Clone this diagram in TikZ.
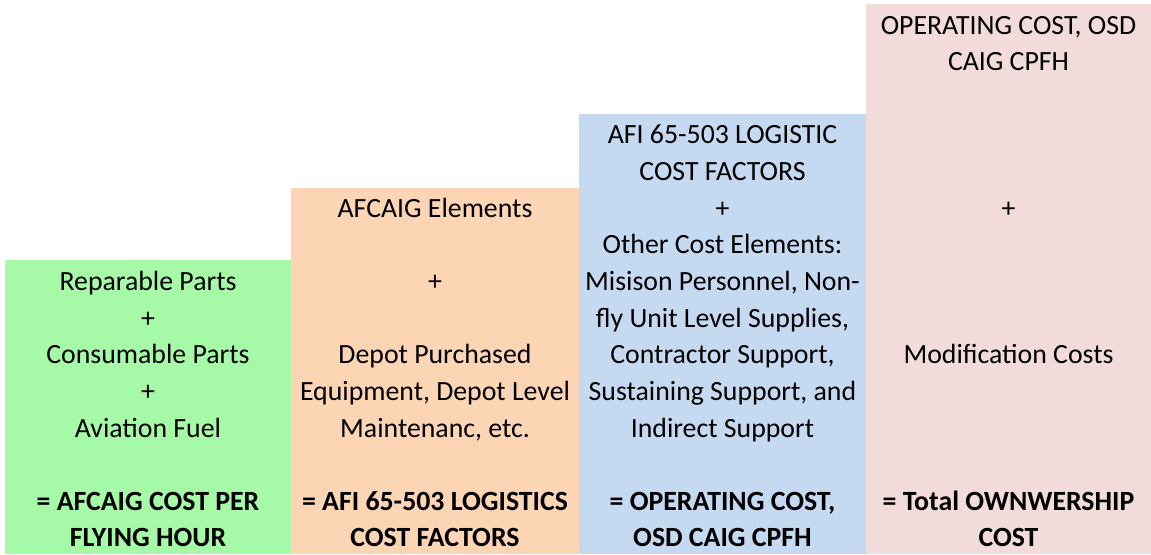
\documentclass[tikz,border=0pt]{standalone}
\usepackage{fontspec}
\setmainfont{Carlito}

\definecolor{fhgreen}{RGB}{166,249,166}
\definecolor{fhorange}{RGB}{252,213,180}
\definecolor{fhblue}{RGB}{197,217,241}
\definecolor{fhpink}{RGB}{242,220,219}

\tikzset{
  cell/.style={anchor=base,inner sep=0pt,font=\fontsize{13.9}{16}\selectfont},
  sumcell/.style={cell,font=\fontsize{13.9}{16}\selectfont\bfseries}
}

\begin{document}
\begin{tikzpicture}[x=0.5pt,y=-0.5pt]
\useasboundingbox (0,0) rectangle (1151,554);
\fill[fhgreen](5,260)rectangle(291,554);
\fill[fhorange](291,188)rectangle(579,554);
\fill[fhblue](579,114)rectangle(866,554);
\fill[fhpink](866,4)rectangle(1151,554);
% green column
\foreach \r/\t in {7/Reparable Parts,8/+,9/Consumable Parts,10/+,11/Aviation Fuel}
  \node[cell] (fh\r) at (148,{34+36.64*\r}) {\t};
\node[sumcell] (fhsum1) at (148,{34+36.64*13}) {= AFCAIG COST PER};
\node[sumcell] (fhsum2) at (148,{34+36.64*14}) {FLYING HOUR};
% orange column
\foreach \r/\t in {5/AFCAIG Elements,7/+,9/Depot Purchased,10/{Equipment, Depot Level},11/{Maintenanc, etc.}}
  \node[cell] (log\r) at (435,{34+36.64*\r}) {\t};
\node[sumcell] (logsum1) at (435,{34+36.64*13}) {= AFI 65-503 LOGISTICS};
\node[sumcell] (logsum2) at (435,{34+36.64*14}) {COST FACTORS};
% blue column
\foreach \r/\t in {3/AFI 65-503 LOGISTIC,4/COST FACTORS,5/+,6/Other Cost Elements:,
  7/{Misison Personnel, Non-},8/{fly Unit Level Supplies,},9/{Contractor Support,},
  10/{Sustaining Support, and},11/Indirect Support}
  \node[cell] (op\r) at (722.5,{34+36.64*\r}) {\t};
\node[sumcell] (opsum1) at (722.5,{34+36.64*13}) {= OPERATING COST,};
\node[sumcell] (opsum2) at (722.5,{34+36.64*14}) {OSD CAIG CPFH};
% pink column
\foreach \r/\t in {0/{OPERATING COST, OSD},1/CAIG CPFH,5/+,9/Modification Costs}
  \node[cell] (own\r) at (1008.5,{34+36.64*\r}) {\t};
\node[sumcell] (ownsum1) at (1008.5,{34+36.64*13}) {= Total OWNWERSHIP};
\node[sumcell] (ownsum2) at (1008.5,{34+36.64*14}) {COST};
\end{tikzpicture}
\end{document}
